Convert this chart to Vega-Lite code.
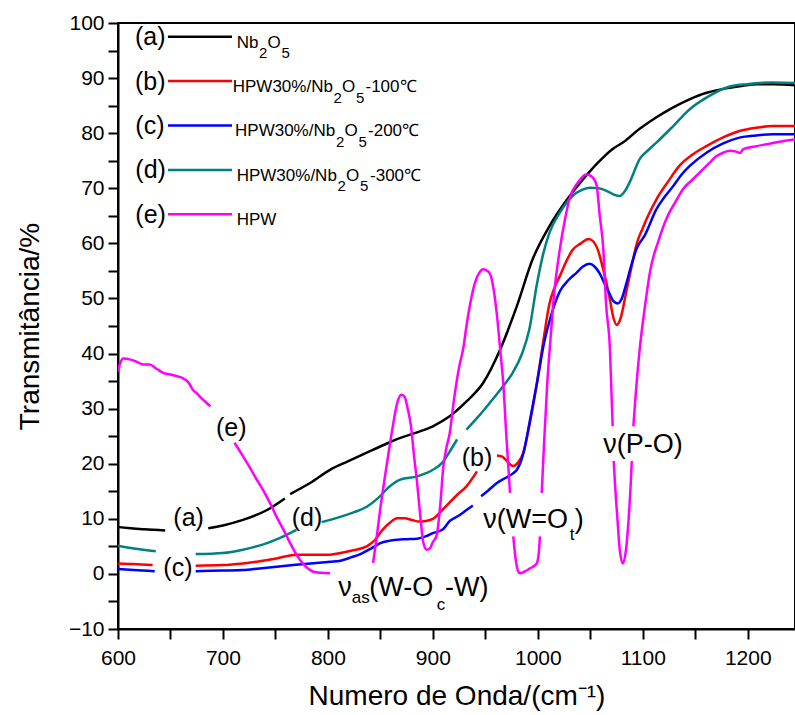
{
"$schema": "https://vega.github.io/schema/vega-lite/v6.json",
"width": 677, "height": 606,
"autosize": {"type": "none"},
"padding": {"left": 118, "top": 23, "right": 0, "bottom": 86},
"background": "white",
"config": {"view": {"stroke": "black", "strokeWidth": 2}, "font": "Liberation Sans"},
"datasets": {
"curves": [
{"s":"a","g":"a1","x":600,"y":8.5},{"s":"a","g":"a1","x":612,"y":8.3},{"s":"a","g":"a1","x":625,"y":8.1},{"s":"a","g":"a1","x":645,"y":7.9},
{"s":"a","g":"a2","x":686,"y":8.3},{"s":"a","g":"a2","x":700,"y":8.8},{"s":"a","g":"a2","x":719,"y":9.8},{"s":"a","g":"a2","x":742,"y":11.6},{"s":"a","g":"a2","x":759,"y":13.7},
{"s":"a","g":"a3","x":764,"y":14.5},{"s":"a","g":"a3","x":783,"y":16.5},{"s":"a","g":"a3","x":802,"y":18.9},{"s":"a","g":"a3","x":820,"y":20.5},{"s":"a","g":"a3","x":837,"y":22.0},{"s":"a","g":"a3","x":853,"y":23.4},{"s":"a","g":"a3","x":869,"y":24.7},{"s":"a","g":"a3","x":885,"y":25.7},{"s":"a","g":"a3","x":900,"y":26.8},{"s":"a","g":"a3","x":916,"y":28.6},{"s":"a","g":"a3","x":932,"y":31.3},{"s":"a","g":"a3","x":948,"y":34.7},{"s":"a","g":"a3","x":964,"y":40.7},{"s":"a","g":"a3","x":980,"y":48.6},{"s":"a","g":"a3","x":995,"y":57.1},{"s":"a","g":"a3","x":1011,"y":63.1},{"s":"a","g":"a3","x":1028,"y":68.0},{"s":"a","g":"a3","x":1043,"y":71.6},{"s":"a","g":"a3","x":1057,"y":74.6},{"s":"a","g":"a3","x":1071,"y":77.1},{"s":"a","g":"a3","x":1081,"y":78.3},{"s":"a","g":"a3","x":1097,"y":80.8},{"s":"a","g":"a3","x":1113,"y":82.9},{"s":"a","g":"a3","x":1129,"y":84.7},{"s":"a","g":"a3","x":1145,"y":86.2},{"s":"a","g":"a3","x":1160,"y":87.3},{"s":"a","g":"a3","x":1176,"y":88.0},{"s":"a","g":"a3","x":1192,"y":88.5},{"s":"a","g":"a3","x":1209,"y":88.9},{"s":"a","g":"a3","x":1225,"y":88.9},{"s":"a","g":"a3","x":1245,"y":88.7},
{"s":"b","g":"b1","x":600,"y":1.9},{"s":"b","g":"b1","x":615,"y":1.8},{"s":"b","g":"b1","x":633,"y":1.6},
{"s":"b","g":"b2","x":674,"y":1.5},{"s":"b","g":"b2","x":700,"y":1.6},{"s":"b","g":"b2","x":719,"y":1.9},{"s":"b","g":"b2","x":735,"y":2.3},{"s":"b","g":"b2","x":751,"y":2.8},{"s":"b","g":"b2","x":770,"y":3.5},{"s":"b","g":"b2","x":790,"y":3.5},{"s":"b","g":"b2","x":802,"y":3.5},{"s":"b","g":"b2","x":812,"y":3.8},{"s":"b","g":"b2","x":824,"y":4.3},{"s":"b","g":"b2","x":837,"y":5.0},{"s":"b","g":"b2","x":845,"y":6.2},{"s":"b","g":"b2","x":852,"y":8.0},{"s":"b","g":"b2","x":859,"y":9.3},{"s":"b","g":"b2","x":866,"y":10.1},{"s":"b","g":"b2","x":873,"y":10.1},{"s":"b","g":"b2","x":880,"y":9.8},{"s":"b","g":"b2","x":887,"y":9.5},{"s":"b","g":"b2","x":893,"y":9.6},{"s":"b","g":"b2","x":900,"y":10.0},{"s":"b","g":"b2","x":909,"y":11.6},{"s":"b","g":"b2","x":916,"y":13.0},{"s":"b","g":"b2","x":924,"y":14.5},{"s":"b","g":"b2","x":932,"y":15.9},{"s":"b","g":"b2","x":942,"y":18.6},
{"s":"b","g":"b3","x":961,"y":21.5},{"s":"b","g":"b3","x":966,"y":21.3},{"s":"b","g":"b3","x":970,"y":20.6},{"s":"b","g":"b3","x":974,"y":19.8},{"s":"b","g":"b3","x":977,"y":19.6},{"s":"b","g":"b3","x":981,"y":20.2},{"s":"b","g":"b3","x":986,"y":21.9},{"s":"b","g":"b3","x":992,"y":27.0},{"s":"b","g":"b3","x":999,"y":34.5},{"s":"b","g":"b3","x":1005,"y":42.0},{"s":"b","g":"b3","x":1011,"y":49.0},{"s":"b","g":"b3","x":1016,"y":52.0},{"s":"b","g":"b3","x":1021,"y":54.1},{"s":"b","g":"b3","x":1028,"y":57.1},{"s":"b","g":"b3","x":1033,"y":58.8},{"s":"b","g":"b3","x":1041,"y":60.0},{"s":"b","g":"b3","x":1048,"y":60.8},{"s":"b","g":"b3","x":1052,"y":60.5},{"s":"b","g":"b3","x":1057,"y":58.9},{"s":"b","g":"b3","x":1062,"y":55.5},{"s":"b","g":"b3","x":1068,"y":50.5},{"s":"b","g":"b3","x":1072,"y":46.5},{"s":"b","g":"b3","x":1075,"y":45.2},{"s":"b","g":"b3","x":1079,"y":46.5},{"s":"b","g":"b3","x":1084,"y":51.0},{"s":"b","g":"b3","x":1089,"y":55.5},{"s":"b","g":"b3","x":1094,"y":59.8},{"s":"b","g":"b3","x":1100,"y":62.8},{"s":"b","g":"b3","x":1105,"y":65.0},{"s":"b","g":"b3","x":1113,"y":68.0},{"s":"b","g":"b3","x":1124,"y":71.2},{"s":"b","g":"b3","x":1135,"y":74.1},{"s":"b","g":"b3","x":1148,"y":76.2},{"s":"b","g":"b3","x":1161,"y":77.7},{"s":"b","g":"b3","x":1176,"y":79.2},{"s":"b","g":"b3","x":1192,"y":80.4},{"s":"b","g":"b3","x":1208,"y":81.0},{"s":"b","g":"b3","x":1224,"y":81.3},{"s":"b","g":"b3","x":1245,"y":81.3},
{"s":"c","g":"c1","x":600,"y":0.9},{"s":"c","g":"c1","x":615,"y":0.7},{"s":"c","g":"c1","x":635,"y":0.5},
{"s":"c","g":"c2","x":674,"y":0.5},{"s":"c","g":"c2","x":700,"y":0.6},{"s":"c","g":"c2","x":719,"y":0.7},{"s":"c","g":"c2","x":735,"y":1.0},{"s":"c","g":"c2","x":751,"y":1.3},{"s":"c","g":"c2","x":767,"y":1.6},{"s":"c","g":"c2","x":783,"y":1.9},{"s":"c","g":"c2","x":802,"y":2.2},{"s":"c","g":"c2","x":812,"y":2.4},{"s":"c","g":"c2","x":822,"y":3.0},{"s":"c","g":"c2","x":832,"y":3.7},{"s":"c","g":"c2","x":841,"y":4.6},{"s":"c","g":"c2","x":850,"y":5.6},{"s":"c","g":"c2","x":858,"y":6.0},{"s":"c","g":"c2","x":866,"y":6.2},{"s":"c","g":"c2","x":875,"y":6.3},{"s":"c","g":"c2","x":885,"y":6.4},{"s":"c","g":"c2","x":893,"y":6.8},{"s":"c","g":"c2","x":900,"y":7.4},{"s":"c","g":"c2","x":909,"y":8.0},{"s":"c","g":"c2","x":916,"y":9.6},{"s":"c","g":"c2","x":924,"y":10.5},{"s":"c","g":"c2","x":932,"y":11.6},{"s":"c","g":"c2","x":938,"y":12.4},
{"s":"c","g":"c3","x":946,"y":14.1},{"s":"c","g":"c3","x":953,"y":15.2},{"s":"c","g":"c3","x":961,"y":16.5},{"s":"c","g":"c3","x":970,"y":17.5},{"s":"c","g":"c3","x":976,"y":18.2},{"s":"c","g":"c3","x":980,"y":18.9},{"s":"c","g":"c3","x":984,"y":20.5},{"s":"c","g":"c3","x":987,"y":22.5},{"s":"c","g":"c3","x":992,"y":27.4},{"s":"c","g":"c3","x":999,"y":34.5},{"s":"c","g":"c3","x":1006,"y":42.0},{"s":"c","g":"c3","x":1012,"y":46.5},{"s":"c","g":"c3","x":1021,"y":51.3},{"s":"c","g":"c3","x":1029,"y":53.3},{"s":"c","g":"c3","x":1037,"y":54.7},{"s":"c","g":"c3","x":1043,"y":55.8},{"s":"c","g":"c3","x":1049,"y":56.3},{"s":"c","g":"c3","x":1054,"y":55.8},{"s":"c","g":"c3","x":1059,"y":54.5},{"s":"c","g":"c3","x":1064,"y":52.5},{"s":"c","g":"c3","x":1068,"y":51.0},{"s":"c","g":"c3","x":1072,"y":49.5},{"s":"c","g":"c3","x":1076,"y":49.1},{"s":"c","g":"c3","x":1080,"y":50.0},{"s":"c","g":"c3","x":1084,"y":52.5},{"s":"c","g":"c3","x":1089,"y":56.0},{"s":"c","g":"c3","x":1094,"y":59.0},{"s":"c","g":"c3","x":1102,"y":61.5},{"s":"c","g":"c3","x":1113,"y":66.2},{"s":"c","g":"c3","x":1121,"y":68.5},{"s":"c","g":"c3","x":1129,"y":70.4},{"s":"c","g":"c3","x":1137,"y":72.5},{"s":"c","g":"c3","x":1145,"y":74.1},{"s":"c","g":"c3","x":1161,"y":76.5},{"s":"c","g":"c3","x":1176,"y":78.1},{"s":"c","g":"c3","x":1192,"y":79.2},{"s":"c","g":"c3","x":1208,"y":79.6},{"s":"c","g":"c3","x":1224,"y":79.8},{"s":"c","g":"c3","x":1245,"y":79.8},
{"s":"d","g":"d1","x":600,"y":5.1},{"s":"d","g":"d1","x":615,"y":4.6},{"s":"d","g":"d1","x":636,"y":4.1},
{"s":"d","g":"d2","x":674,"y":3.6},{"s":"d","g":"d2","x":700,"y":3.8},{"s":"d","g":"d2","x":719,"y":4.4},{"s":"d","g":"d2","x":742,"y":5.6},{"s":"d","g":"d2","x":755,"y":6.6},{"s":"d","g":"d2","x":770,"y":8.0},
{"s":"d","g":"d3","x":794,"y":9.4},{"s":"d","g":"d3","x":811,"y":10.3},{"s":"d","g":"d3","x":825,"y":11.2},{"s":"d","g":"d3","x":837,"y":12.2},{"s":"d","g":"d3","x":848,"y":13.8},{"s":"d","g":"d3","x":859,"y":15.9},{"s":"d","g":"d3","x":869,"y":17.1},{"s":"d","g":"d3","x":885,"y":17.7},{"s":"d","g":"d3","x":900,"y":18.9},{"s":"d","g":"d3","x":909,"y":20.2},{"s":"d","g":"d3","x":916,"y":22.2},{"s":"d","g":"d3","x":923,"y":24.4},
{"s":"d","g":"d4","x":932,"y":26.2},{"s":"d","g":"d4","x":943,"y":28.5},{"s":"d","g":"d4","x":954,"y":31.0},{"s":"d","g":"d4","x":965,"y":33.6},{"s":"d","g":"d4","x":976,"y":36.5},{"s":"d","g":"d4","x":985,"y":40.0},{"s":"d","g":"d4","x":992,"y":44.5},{"s":"d","g":"d4","x":999,"y":52.5},{"s":"d","g":"d4","x":1005,"y":58.0},{"s":"d","g":"d4","x":1011,"y":61.9},{"s":"d","g":"d4","x":1021,"y":65.6},{"s":"d","g":"d4","x":1033,"y":68.6},{"s":"d","g":"d4","x":1042,"y":69.7},{"s":"d","g":"d4","x":1050,"y":70.1},{"s":"d","g":"d4","x":1058,"y":70.0},{"s":"d","g":"d4","x":1066,"y":69.5},{"s":"d","g":"d4","x":1073,"y":68.8},{"s":"d","g":"d4","x":1078,"y":68.6},{"s":"d","g":"d4","x":1083,"y":69.5},{"s":"d","g":"d4","x":1088,"y":71.3},{"s":"d","g":"d4","x":1097,"y":75.3},{"s":"d","g":"d4","x":1105,"y":76.9},{"s":"d","g":"d4","x":1113,"y":78.3},{"s":"d","g":"d4","x":1129,"y":81.3},{"s":"d","g":"d4","x":1145,"y":84.4},{"s":"d","g":"d4","x":1161,"y":86.5},{"s":"d","g":"d4","x":1180,"y":88.3},{"s":"d","g":"d4","x":1199,"y":88.9},{"s":"d","g":"d4","x":1224,"y":89.2},{"s":"d","g":"d4","x":1245,"y":89.1},
{"s":"e","g":"e1","x":600,"y":36.7},{"s":"e","g":"e1","x":602,"y":38.2},{"s":"e","g":"e1","x":605,"y":39.1},{"s":"e","g":"e1","x":612,"y":38.9},{"s":"e","g":"e1","x":618,"y":38.5},{"s":"e","g":"e1","x":624,"y":38.0},{"s":"e","g":"e1","x":630,"y":38.0},{"s":"e","g":"e1","x":637,"y":37.2},{"s":"e","g":"e1","x":643,"y":36.5},{"s":"e","g":"e1","x":650,"y":36.2},{"s":"e","g":"e1","x":656,"y":35.9},{"s":"e","g":"e1","x":662,"y":35.5},{"s":"e","g":"e1","x":666,"y":35.0},{"s":"e","g":"e1","x":669,"y":34.2},{"s":"e","g":"e1","x":671,"y":33.5},{"s":"e","g":"e1","x":675,"y":32.8},{"s":"e","g":"e1","x":678,"y":32.2},{"s":"e","g":"e1","x":683,"y":31.3},{"s":"e","g":"e1","x":688,"y":30.4},
{"s":"e","g":"e2","x":711,"y":23.8},{"s":"e","g":"e2","x":718,"y":21.7},{"s":"e","g":"e2","x":725,"y":19.5},{"s":"e","g":"e2","x":731,"y":17.5},{"s":"e","g":"e2","x":738,"y":15.3},{"s":"e","g":"e2","x":745,"y":12.8},{"s":"e","g":"e2","x":751,"y":10.4},{"s":"e","g":"e2","x":758,"y":7.9},{"s":"e","g":"e2","x":764,"y":5.6},{"s":"e","g":"e2","x":770,"y":3.5},{"s":"e","g":"e2","x":776,"y":1.9},{"s":"e","g":"e2","x":781,"y":1.0},{"s":"e","g":"e2","x":786,"y":0.4},{"s":"e","g":"e2","x":794,"y":0.2},{"s":"e","g":"e2","x":802,"y":0.1},
{"s":"e","g":"e3","x":843,"y":2.0},{"s":"e","g":"e3","x":846,"y":6.0},{"s":"e","g":"e3","x":850,"y":12.0},{"s":"e","g":"e3","x":855,"y":18.5},{"s":"e","g":"e3","x":859,"y":23.5},{"s":"e","g":"e3","x":862,"y":27.0},{"s":"e","g":"e3","x":866,"y":31.0},{"s":"e","g":"e3","x":870,"y":32.5},{"s":"e","g":"e3","x":873,"y":32.2},{"s":"e","g":"e3","x":876,"y":30.0},{"s":"e","g":"e3","x":879,"y":27.0},{"s":"e","g":"e3","x":882,"y":21.5},{"s":"e","g":"e3","x":885,"y":16.5},{"s":"e","g":"e3","x":888,"y":10.5},{"s":"e","g":"e3","x":891,"y":5.6},{"s":"e","g":"e3","x":894,"y":4.4},{"s":"e","g":"e3","x":897,"y":4.6},{"s":"e","g":"e3","x":900,"y":5.8},{"s":"e","g":"e3","x":903.6,"y":7.0},{"s":"e","g":"e3","x":907,"y":12.5},{"s":"e","g":"e3","x":910,"y":19.5},{"s":"e","g":"e3","x":913,"y":23.0},{"s":"e","g":"e3","x":916,"y":25.5},{"s":"e","g":"e3","x":920,"y":31.5},{"s":"e","g":"e3","x":925,"y":37.5},{"s":"e","g":"e3","x":929,"y":41.0},{"s":"e","g":"e3","x":932,"y":45.0},{"s":"e","g":"e3","x":936,"y":49.5},{"s":"e","g":"e3","x":940,"y":52.8},{"s":"e","g":"e3","x":944,"y":54.6},{"s":"e","g":"e3","x":948,"y":55.3},{"s":"e","g":"e3","x":952,"y":55.0},{"s":"e","g":"e3","x":955,"y":54.2},{"s":"e","g":"e3","x":958,"y":51.5},{"s":"e","g":"e3","x":961,"y":47.0},{"s":"e","g":"e3","x":964,"y":41.0},{"s":"e","g":"e3","x":967,"y":34.7},{"s":"e","g":"e3","x":970,"y":25.0},{"s":"e","g":"e3","x":973.5,"y":14.7},
{"s":"e","g":"e4","x":976.6,"y":6.8},{"s":"e","g":"e4","x":979,"y":2.5},{"s":"e","g":"e4","x":981,"y":0.6},{"s":"e","g":"e4","x":983,"y":0.1},{"s":"e","g":"e4","x":988,"y":0.5},{"s":"e","g":"e4","x":992.5,"y":1.0},{"s":"e","g":"e4","x":996,"y":1.4},{"s":"e","g":"e4","x":999,"y":1.9},{"s":"e","g":"e4","x":1001,"y":4.0},{"s":"e","g":"e4","x":1002,"y":6.8},
{"s":"e","g":"e5","x":1003.7,"y":14.7},{"s":"e","g":"e5","x":1006,"y":24.0},{"s":"e","g":"e5","x":1009,"y":34.7},{"s":"e","g":"e5","x":1012,"y":42.5},{"s":"e","g":"e5","x":1015,"y":49.8},{"s":"e","g":"e5","x":1021,"y":59.0},{"s":"e","g":"e5","x":1026,"y":64.5},{"s":"e","g":"e5","x":1030,"y":68.0},{"s":"e","g":"e5","x":1038,"y":71.0},{"s":"e","g":"e5","x":1046,"y":72.5},{"s":"e","g":"e5","x":1050,"y":72.3},{"s":"e","g":"e5","x":1053,"y":71.8},{"s":"e","g":"e5","x":1056,"y":70.5},{"s":"e","g":"e5","x":1059,"y":65.0},{"s":"e","g":"e5","x":1062.4,"y":58.9},{"s":"e","g":"e5","x":1065,"y":49.0},{"s":"e","g":"e5","x":1068.7,"y":40.7},{"s":"e","g":"e5","x":1070.5,"y":31.0},{"s":"e","g":"e5","x":1071.3,"y":26.8},
{"s":"e","g":"e6","x":1072.3,"y":20.5},{"s":"e","g":"e6","x":1073.5,"y":16.4},{"s":"e","g":"e6","x":1076,"y":9.5},{"s":"e","g":"e6","x":1078,"y":4.4},{"s":"e","g":"e6","x":1081,"y":1.9},{"s":"e","g":"e6","x":1084,"y":4.4},{"s":"e","g":"e6","x":1086.5,"y":10.0},{"s":"e","g":"e6","x":1088.5,"y":16.4},{"s":"e","g":"e6","x":1089.5,"y":20.5},
{"s":"e","g":"e7","x":1091,"y":26.8},{"s":"e","g":"e7","x":1093,"y":32.0},{"s":"e","g":"e7","x":1097,"y":40.7},{"s":"e","g":"e7","x":1102,"y":48.5},{"s":"e","g":"e7","x":1107,"y":55.0},{"s":"e","g":"e7","x":1115,"y":60.5},{"s":"e","g":"e7","x":1123,"y":64.7},{"s":"e","g":"e7","x":1131,"y":67.5},{"s":"e","g":"e7","x":1139,"y":70.0},{"s":"e","g":"e7","x":1147,"y":71.5},{"s":"e","g":"e7","x":1155,"y":73.0},{"s":"e","g":"e7","x":1163,"y":74.5},{"s":"e","g":"e7","x":1170,"y":75.8},{"s":"e","g":"e7","x":1177,"y":76.5},{"s":"e","g":"e7","x":1183,"y":76.8},{"s":"e","g":"e7","x":1188,"y":76.7},{"s":"e","g":"e7","x":1192.6,"y":76.4},{"s":"e","g":"e7","x":1195.8,"y":77.1},{"s":"e","g":"e7","x":1207,"y":77.6},{"s":"e","g":"e7","x":1218,"y":78.0},{"s":"e","g":"e7","x":1232,"y":78.5},{"s":"e","g":"e7","x":1245,"y":78.9}
],
"legend": [
{"s":"a","x":647.6,"x2":708.6,"y":97.51},
{"s":"b","x":647.6,"x2":708.6,"y":89.45},
{"s":"c","x":647.6,"x2":708.6,"y":81.39},
{"s":"d","x":647.6,"x2":708.6,"y":73.33},
{"s":"e","x":647.6,"x2":708.6,"y":65.28}
],
"labels": [
{"k":"tag","t":"(a)","x":616.2,"y":95.97},
{"k":"tag","t":"(b)","x":616.2,"y":87.91},
{"k":"tag","t":"(c)","x":616.5,"y":79.85},
{"k":"tag","t":"(d)","x":616.5,"y":71.79},
{"k":"tag","t":"(e)","x":616.5,"y":63.73},
{"k":"tag","t":"(a)","x":652.7,"y":8.62},
{"k":"tag","t":"(c)","x":643.2,"y":-0.45},
{"k":"tag","t":"(d)","x":765.5,"y":8.62},
{"k":"tag","t":"(e)","x":693.4,"y":24.96},
{"k":"tag","t":"(b)","x":927.5,"y":19.51},
{"k":"ann","t":"ν(P-O)","x":1062.4,"y":22.02},
{"k":"ann","t":"ν(W=O","x":948.1,"y":8.4},
{"k":"ann","t":")","x":1035.2,"y":8.4},
{"k":"ann","t":"ν","x":809.9,"y":-3.92},
{"k":"ann","t":"(W-O","x":839.4,"y":-3.92},
{"k":"ann","t":"-W)","x":911.5,"y":-3.92},
{"k":"annsub","t":"t","x":1030.4,"y":6.15},
{"k":"annsub","t":"as","x":822.7,"y":-5.37},
{"k":"annsub","t":"c","x":903.6,"y":-6.55},
{"k":"leg","t":"Nb","x":713.1,"y":95.52},
{"k":"leg","t":"O","x":742.4,"y":95.52},
{"k":"leg","t":"HPW30%/Nb","x":709.3,"y":87.46},
{"k":"leg","t":"O","x":813.4,"y":87.46},
{"k":"leg","t":"-100℃","x":835.8,"y":87.46},
{"k":"leg","t":"HPW30%/Nb","x":711.5,"y":79.4},
{"k":"leg","t":"O","x":815.8,"y":79.4},
{"k":"leg","t":"-200℃","x":838.2,"y":79.4},
{"k":"leg","t":"HPW30%/Nb","x":713.1,"y":71.34},
{"k":"leg","t":"O","x":817.2,"y":71.34},
{"k":"leg","t":"-300℃","x":840.1,"y":71.34},
{"k":"leg","t":"HPW","x":713.1,"y":63.28},
{"k":"legsub","t":"2","x":734.3,"y":93.61},
{"k":"legsub","t":"5","x":755.8,"y":93.61},
{"k":"legsub","t":"2","x":805.3,"y":85.55},
{"k":"legsub","t":"5","x":826.8,"y":85.55},
{"k":"legsub","t":"2","x":807.7,"y":77.49},
{"k":"legsub","t":"5","x":829.1,"y":77.49},
{"k":"legsub","t":"2","x":809.1,"y":69.43},
{"k":"legsub","t":"5","x":830.6,"y":69.43}
]
},
"encoding": {
"x": {"field": "x", "type": "quantitative", "scale": {"domain": [600, 1245], "nice": false, "zero": false},
"axis": {"title": "Numero de Onda/(cm⁻¹)", "values": [600,650,700,750,800,850,900,950,1000,1050,1100,1150,1200],
"labelExpr": "datum.value % 100 === 0 ? datum.label : ''", "format": "d",
"tickSize": 10,
"encode": {"ticks": {"update": {"y2": {"signal": "datum.value % 100 === 0 ? 10 : 6"}}}},
"grid": false, "domainColor": "black", "domainWidth": 2, "tickColor": "black", "tickWidth": 2,
"labelFont": "Liberation Sans", "labelFontSize": 21, "labelColor": "black", "labelPadding": 8, "labelFlush": false, "labelOverlap": false,
"titleFont": "Liberation Sans", "titleFontSize": 28, "titleFontWeight": "normal", "titleColor": "black", "titlePadding": 14}},
"y": {"field": "y", "type": "quantitative", "scale": {"domain": [-10, 100], "nice": false, "zero": false},
"axis": {"title": "Transmitância/%", "values": [-10,-5,0,5,10,15,20,25,30,35,40,45,50,55,60,65,70,75,80,85,90,95,100],
"labelExpr": "datum.value % 10 === 0 ? datum.label : ''", "format": "d",
"tickSize": 10,
"encode": {"ticks": {"update": {"x2": {"signal": "datum.value % 10 === 0 ? -10 : -6"}}}},
"grid": false, "domainColor": "black", "domainWidth": 2, "tickColor": "black", "tickWidth": 2,
"labelFont": "Liberation Sans", "labelFontSize": 21, "labelColor": "black", "labelPadding": 4, "labelFlush": false, "labelOverlap": false,
"titleFont": "Liberation Sans", "titleFontSize": 28, "titleFontWeight": "normal", "titleColor": "black", "titlePadding": 24}}
},
"layer": [
{
"data": {"name": "curves"},
"mark": {"type": "line", "strokeWidth": 2.5, "interpolate": "monotone", "clip": true},
"encoding": {
"color": {"field": "s", "type": "nominal", "scale": {"domain": ["a","b","c","d","e"], "range": ["#000000","#ff0000","#0000ff","#008080","#ff00ff"]}, "legend": null},
"detail": {"field": "g"}
}
},
{
"data": {"name": "legend"},
"mark": {"type": "rule", "strokeWidth": 2.5},
"encoding": {
"x2": {"field": "x2"},
"color": {"field": "s", "type": "nominal", "legend": null}
}
},
{
"data": {"name": "labels"},
"transform": [{"filter": "datum.k === 'tag'"}],
"mark": {"type": "text", "align": "left", "baseline": "alphabetic", "fontSize": 25, "font": "Liberation Sans", "color": "black"},
"encoding": {"text": {"field": "t"}}
},
{
"data": {"name": "labels"},
"transform": [{"filter": "datum.k === 'ann'"}],
"mark": {"type": "text", "align": "left", "baseline": "alphabetic", "fontSize": 27, "font": "Liberation Sans", "color": "black"},
"encoding": {"text": {"field": "t"}}
},
{
"data": {"name": "labels"},
"transform": [{"filter": "datum.k === 'annsub'"}],
"mark": {"type": "text", "align": "left", "baseline": "alphabetic", "fontSize": 17, "font": "Liberation Sans", "color": "black"},
"encoding": {"text": {"field": "t"}}
},
{
"data": {"name": "labels"},
"transform": [{"filter": "datum.k === 'leg'"}],
"mark": {"type": "text", "align": "left", "baseline": "alphabetic", "fontSize": 17, "font": "Liberation Sans", "color": "black"},
"encoding": {"text": {"field": "t"}}
},
{
"data": {"name": "labels"},
"transform": [{"filter": "datum.k === 'legsub'"}],
"mark": {"type": "text", "align": "left", "baseline": "alphabetic", "fontSize": 15, "font": "Liberation Sans", "color": "black"},
"encoding": {"text": {"field": "t"}}
}
]
}
